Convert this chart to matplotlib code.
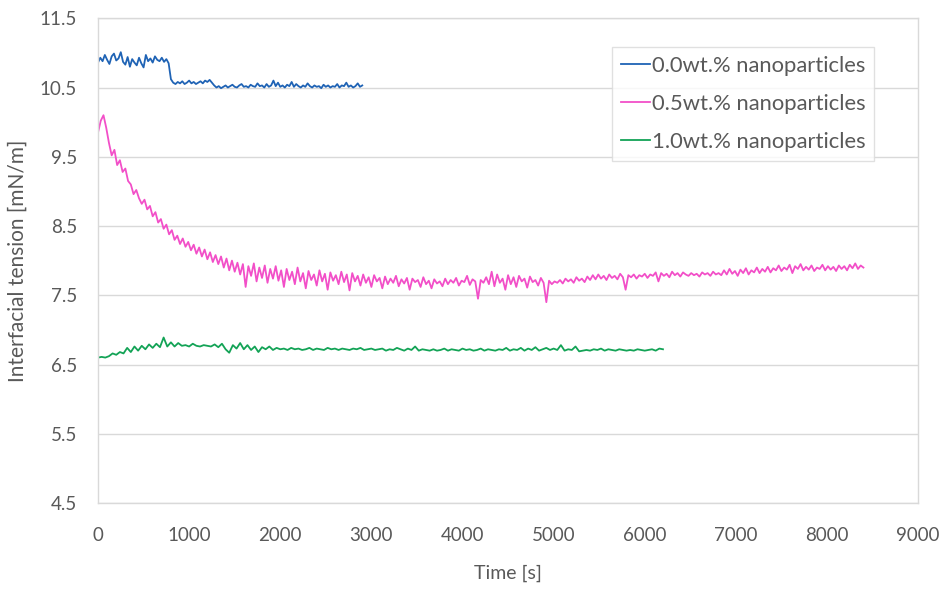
import numpy as np
import matplotlib
matplotlib.use("Agg")
import matplotlib.pyplot as plt

plt.rcParams['font.family'] = ['Lato', 'DejaVu Sans']

series_labels = ["0.0wt.% nanoparticles", "0.5wt.% nanoparticles", "1.0wt.% nanoparticles"]
series_colors = ["#1F63B5", "#F24FC8", "#13A356"]

# sampling steps (s)
step_00 = 25
step_05 = 30
step_10 = 40

ift_00 = [
    10.86, 10.93, 10.88, 10.97, 10.90, 10.84, 10.95, 10.99, 10.89, 10.92,
    11.01, 10.87, 10.83, 10.94, 10.80, 10.91, 10.86, 10.82, 10.93, 10.85,
    10.79, 10.97, 10.88, 10.92, 10.86, 10.95, 10.90, 10.88, 10.93, 10.87,
    10.91, 10.85,
    10.62,
    10.57, 10.55, 10.58, 10.56, 10.59, 10.55, 10.57, 10.60, 10.56, 10.58,
    10.55, 10.57, 10.59, 10.56, 10.60, 10.58, 10.61, 10.57,
    10.53, 10.50, 10.52, 10.49, 10.51, 10.53, 10.50, 10.52, 10.54, 10.51,
    10.50, 10.53, 10.55, 10.51, 10.52, 10.50, 10.54, 10.52, 10.51, 10.56,
    10.52, 10.53, 10.50, 10.55, 10.51, 10.53, 10.60, 10.52, 10.57, 10.51,
    10.53, 10.50, 10.54, 10.52, 10.58, 10.51, 10.55, 10.52, 10.50, 10.53,
    10.51, 10.56, 10.52, 10.50, 10.53, 10.51, 10.52, 10.49, 10.54, 10.51,
    10.53, 10.50, 10.52, 10.51, 10.55, 10.50, 10.53, 10.52, 10.57, 10.51,
    10.53, 10.50, 10.52, 10.56, 10.51, 10.53,
]

ift_05 = [
    9.85, 10.02, 10.10, 9.92, 9.70, 9.52, 9.60, 9.38, 9.45, 9.28,
    9.33, 9.15, 9.10, 8.96, 9.02, 8.90, 8.82, 8.88, 8.74, 8.79,
    8.64, 8.70, 8.55, 8.60, 8.46, 8.52, 8.38, 8.44, 8.30, 8.36,
    8.24, 8.32, 8.20, 8.27, 8.15, 8.23, 8.10, 8.19, 8.06, 8.16,
    8.02, 8.12, 7.98, 8.08, 7.95, 8.06, 7.90, 8.03, 7.86, 8.00,
    7.84, 7.97, 7.80, 7.95, 7.62, 7.92, 7.78, 7.96, 7.70, 7.90,
    7.75, 7.93, 7.68, 7.88, 7.74, 7.92, 7.71, 7.86, 7.62, 7.88,
    7.72, 7.84, 7.66, 7.90, 7.70, 7.82, 7.60, 7.85, 7.72, 7.80,
    7.64, 7.86, 7.70, 7.81, 7.58, 7.83, 7.71, 7.79, 7.66, 7.84,
    7.69, 7.80, 7.57, 7.82, 7.70, 7.78, 7.64, 7.80, 7.68, 7.76,
    7.62, 7.79, 7.70, 7.75, 7.60, 7.77, 7.66, 7.74, 7.68, 7.78,
    7.63, 7.73, 7.67, 7.75, 7.58, 7.74, 7.69, 7.72, 7.62, 7.76,
    7.66, 7.71, 7.60, 7.73, 7.67, 7.70, 7.63, 7.74, 7.66, 7.72,
    7.68, 7.75, 7.64, 7.71, 7.69, 7.78, 7.65, 7.73, 7.70, 7.45,
    7.72, 7.68, 7.76, 7.66, 7.84, 7.63, 7.80, 7.68, 7.74, 7.58,
    7.79, 7.66, 7.76, 7.62, 7.78, 7.70, 7.74, 7.61, 7.77, 7.69,
    7.72, 7.64, 7.75, 7.68, 7.40, 7.71, 7.66, 7.70, 7.68, 7.72,
    7.67, 7.74, 7.70, 7.73, 7.68, 7.76, 7.71, 7.74, 7.69, 7.77,
    7.72, 7.79, 7.73, 7.80, 7.74, 7.78, 7.72, 7.80, 7.75, 7.78,
    7.73, 7.81, 7.76, 7.58, 7.79, 7.76, 7.80, 7.74, 7.79, 7.77,
    7.81, 7.75, 7.80, 7.78, 7.83, 7.70, 7.82, 7.78, 7.81, 7.76,
    7.84, 7.79, 7.82, 7.77, 7.83, 7.80, 7.78, 7.82, 7.79, 7.81,
    7.77, 7.83, 7.80, 7.82, 7.78, 7.84, 7.80, 7.82, 7.79, 7.86,
    7.80, 7.88, 7.81, 7.85, 7.78, 7.87, 7.82, 7.89, 7.80, 7.86,
    7.83, 7.90, 7.82, 7.88, 7.84, 7.91, 7.83, 7.89, 7.86, 7.93,
    7.85, 7.90, 7.87, 7.94, 7.82, 7.92, 7.88, 7.95, 7.86, 7.91,
    7.87, 7.93, 7.85, 7.90, 7.88, 7.94, 7.86, 7.92, 7.87, 7.91,
    7.85, 7.93, 7.88, 7.92, 7.86, 7.94, 7.89, 7.96, 7.88, 7.93,
    7.90,
]

ift_10 = [
    6.60, 6.61, 6.60, 6.62, 6.66, 6.64, 6.68, 6.66, 6.74, 6.68,
    6.76, 6.70, 6.77, 6.72, 6.79, 6.74, 6.80, 6.75, 6.89, 6.76,
    6.82, 6.76, 6.81, 6.77, 6.78, 6.76, 6.80, 6.77, 6.76, 6.78,
    6.77, 6.76, 6.79, 6.75, 6.80, 6.72, 6.67, 6.78, 6.73, 6.81,
    6.72, 6.78, 6.71, 6.76, 6.68, 6.75, 6.72, 6.76, 6.71, 6.74,
    6.72, 6.73, 6.71, 6.74, 6.72, 6.73, 6.71, 6.72, 6.74, 6.71,
    6.73, 6.72, 6.71, 6.74, 6.72, 6.73, 6.71, 6.73, 6.72, 6.71,
    6.73, 6.72, 6.74, 6.71, 6.72, 6.73, 6.71, 6.72, 6.73, 6.70,
    6.72, 6.71, 6.74, 6.72, 6.70, 6.73, 6.71, 6.76, 6.70, 6.72,
    6.71, 6.70, 6.72, 6.70, 6.71, 6.73, 6.70, 6.72, 6.71, 6.70,
    6.73, 6.71, 6.72, 6.70, 6.71, 6.73, 6.70, 6.72, 6.71, 6.70,
    6.72, 6.71, 6.74, 6.70, 6.72, 6.71, 6.74, 6.70, 6.73, 6.71,
    6.75, 6.70, 6.72, 6.74, 6.71, 6.73, 6.71, 6.78, 6.70, 6.72,
    6.71, 6.76, 6.69, 6.70, 6.71, 6.70, 6.72, 6.71, 6.73, 6.70,
    6.72, 6.71, 6.70, 6.72, 6.71, 6.70, 6.71, 6.70, 6.72, 6.71,
    6.70, 6.71, 6.72, 6.70, 6.73, 6.72,
]

x_ticks = [0, 1000, 2000, 3000, 4000, 5000, 6000, 7000, 8000, 9000]
y_ticks = [4.5, 5.5, 6.5, 7.5, 8.5, 9.5, 10.5, 11.5]

t_00 = np.arange(len(ift_00)) * step_00
t_05 = np.arange(len(ift_05)) * step_05
t_10 = np.arange(len(ift_10)) * step_10

fig = plt.figure(figsize=(9.47, 5.89), dpi=100)
ax = fig.add_axes([0.1035, 0.146, 0.866, 0.823])

grid_c = "#D9D9D9"
text_c = "#595959"

for t, y, lab, c in zip([t_00, t_05, t_10], [ift_00, ift_05, ift_10], series_labels, series_colors):
    ax.plot(t, y, color=c, lw=1.3, label=lab)

ax.set_xlim(0, 9000)
ax.set_ylim(4.5, 11.5)
ax.set_xticks(x_ticks)
ax.set_yticks(y_ticks)
ax.set_yticklabels([f"{v:.1f}" for v in y_ticks])
ax.grid(axis='y', color=grid_c, lw=1.0)
ax.set_axisbelow(True)
for s in ax.spines.values():
    s.set_color(grid_c)
    s.set_linewidth(1.0)
ax.tick_params(length=0, labelsize=13.5, colors=text_c)
ax.tick_params(axis='x', pad=17)
ax.tick_params(axis='y', pad=15)
ax.set_xlabel("Time [s]", fontsize=14, color=text_c, labelpad=15)
ax.set_ylabel("Interfacial tension [mN/m]", fontsize=15, color=text_c, labelpad=9)

leg = ax.legend(loc='upper left', bbox_to_anchor=(0.627, 0.94), fontsize=15.8,
                frameon=True, fancybox=False, edgecolor=grid_c, handlelength=1.3,
                handletextpad=0.1, labelspacing=0.82, borderpad=0.4,
                borderaxespad=0.0)
for txt in leg.get_texts():
    txt.set_color(text_c)
leg.get_frame().set_linewidth(1.0)

fig.savefig("out.png", dpi=100)
